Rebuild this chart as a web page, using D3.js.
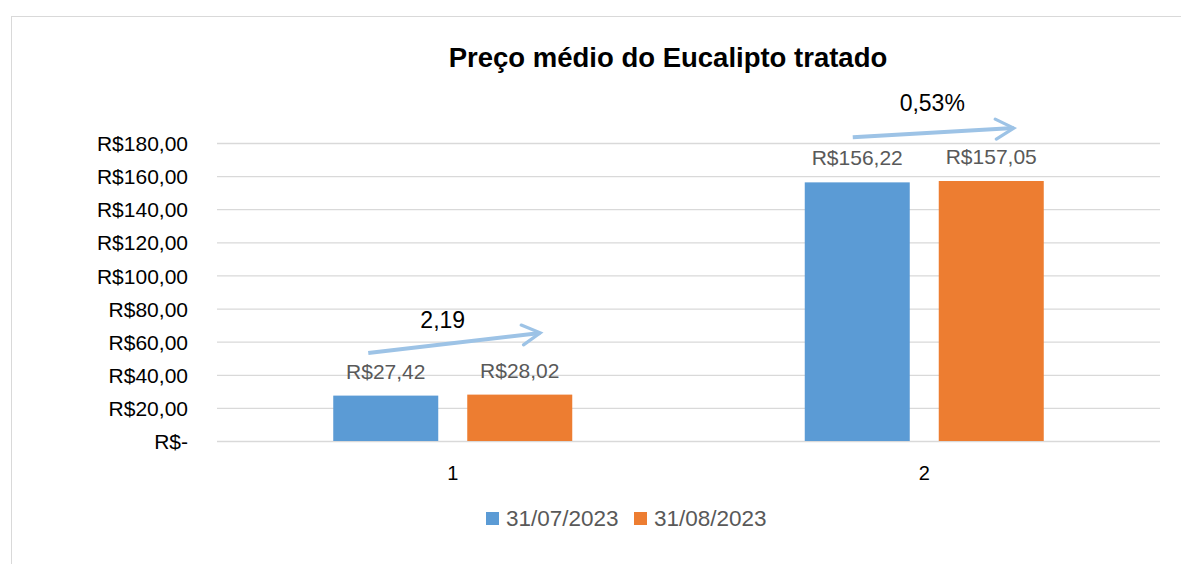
<!DOCTYPE html>
<html><head><meta charset="utf-8">
<script src="https://cdn.jsdelivr.net/npm/d3@7"></script>
<style>body{margin:0;background:#fff}svg{display:block}</style>
</head><body>
<script>
const categories = ["1", "2"];
const seriesNames = ["31/07/2023", "31/08/2023"];
const series1 = [27.42, 156.22];
const series2 = [28.02, 157.05];
const dataLabels1 = ["R$27,42", "R$156,22"];
const dataLabels2 = ["R$28,02", "R$157,05"];
const yTicks = [0, 20, 40, 60, 80, 100, 120, 140, 160, 180];
const yTickLabels = ["R$-", "R$20,00", "R$40,00", "R$60,00", "R$80,00", "R$100,00", "R$120,00", "R$140,00", "R$160,00", "R$180,00"];
const changeLabels = ["2,19", "0,53%"];
// arrow annotation values: [start value, end value]
const arrowVals = [[53.2, 65.3], [183.5, 189]];

const W = 1181, H = 564;
const colors = ["#5b9bd5", "#ed7d31"];
const font = "'Liberation Sans', Arial, sans-serif";

const svg = d3.select("body").append("svg").attr("width", W).attr("height", H);
svg.append("rect").attr("x", 11.5).attr("y", 16.5).attr("width", W + 10).attr("height", H + 10)
  .attr("fill", "#fff").attr("stroke", "#d9d9d9").attr("stroke-width", 1);

const plot = {left: 217, right: 1160, top: 143, bottom: 441};
const x = d3.scaleBand().domain(categories).range([plot.left, plot.right]);
const y = d3.scaleLinear().domain([0, 180]).range([plot.bottom, plot.top]);
const barW = 105, gap = 29;
const groupW = barW * 2 + gap;
const groupOff = (x.bandwidth() - groupW) / 2;
const barX = (i, s) => x(categories[i]) + groupOff + s * (barW + gap);

// gridlines
const yAxis = d3.axisLeft(y).tickValues(yTicks).tickSize(-(plot.right - plot.left)).tickFormat((d, i) => yTickLabels[i]);
const ga = svg.append("g").attr("transform", `translate(${plot.left},0)`).call(yAxis);
ga.select(".domain").remove();
ga.selectAll(".tick line").attr("stroke", "#d9d9d9").attr("stroke-width", 1.3);
ga.selectAll(".tick text").attr("x", -29).attr("fill", "#000").attr("font-family", font).attr("font-size", 21).attr("dy", "0.36em");

// x labels
const xAxis = d3.axisBottom(x).tickSize(0);
const gx = svg.append("g").attr("transform", `translate(0,${plot.bottom})`).call(xAxis);
gx.select(".domain").remove();
gx.selectAll(".tick text").attr("y", 25).attr("fill", "#000").attr("font-family", font).attr("font-size", 20);

const allSeries = [series1, series2];
const allLabels = [dataLabels1, dataLabels2];
allSeries.forEach((vals, s) => {
  const g = svg.append("g");
  g.selectAll("rect").data(vals).join("rect")
    .attr("x", (d, i) => barX(i, s))
    .attr("width", barW)
    .attr("y", d => y(d))
    .attr("height", d => y(0) - y(d))
    .attr("fill", colors[s]);
  g.selectAll("text").data(vals).join("text")
    .attr("x", (d, i) => barX(i, s) + barW / 2)
    .attr("y", d => y(d) - 17)
    .attr("text-anchor", "middle")
    .attr("fill", "#595959").attr("font-family", font).attr("font-size", 21)
    .text((d, i) => allLabels[s][i]);
});

// arrows
svg.append("defs").append("marker").attr("id", "ah").attr("viewBox", "0 0 12 12")
  .attr("refX", 10).attr("refY", 6).attr("markerWidth", 6).attr("markerHeight", 6)
  .attr("markerUnits", "strokeWidth").attr("orient", "auto")
  .append("path").attr("d", "M1,1 L10,6 L1,11").attr("fill", "none").attr("stroke", "#9dc3e6").attr("stroke-width", 1.6).attr("stroke-linecap", "round");

const arrowStartOff = [35, 48];
const arrowEndOff = [32, 30];
const labelDx = [-10, 8];
const labelDy = [-5, -17];
categories.forEach((c, i) => {
  const x0 = x(c) + groupOff + arrowStartOff[i];
  const x1 = x(c) + groupOff + groupW - arrowEndOff[i];
  svg.append("line").attr("x1", x0).attr("y1", y(arrowVals[i][0]))
    .attr("x2", x1).attr("y2", y(arrowVals[i][1]))
    .attr("stroke", "#9dc3e6").attr("stroke-width", 4).attr("marker-end", "url(#ah)");
  svg.append("text").attr("x", x(c) + x.bandwidth() / 2 + labelDx[i])
    .attr("y", y(arrowVals[i][1]) + labelDy[i])
    .attr("text-anchor", "middle").attr("fill", "#000").attr("font-family", font).attr("font-size", 23)
    .text(changeLabels[i]);
});

// title
svg.append("text").attr("x", 668).attr("y", 67).attr("text-anchor", "middle")
  .attr("font-family", font).attr("font-weight", "bold").attr("font-size", 27.5).attr("fill", "#000")
  .text("Preço médio do Eucalipto tratado");

// legend
const leg = svg.append("g");
const legX = [486, 634];
seriesNames.forEach((n, i) => {
  leg.append("rect").attr("x", legX[i]).attr("y", 512).attr("width", 13).attr("height", 13).attr("fill", colors[i]);
  leg.append("text").attr("x", legX[i] + 20).attr("y", 526).attr("fill", "#595959")
    .attr("font-family", font).attr("font-size", 22.5).text(n);
});
</script>
</body></html>
